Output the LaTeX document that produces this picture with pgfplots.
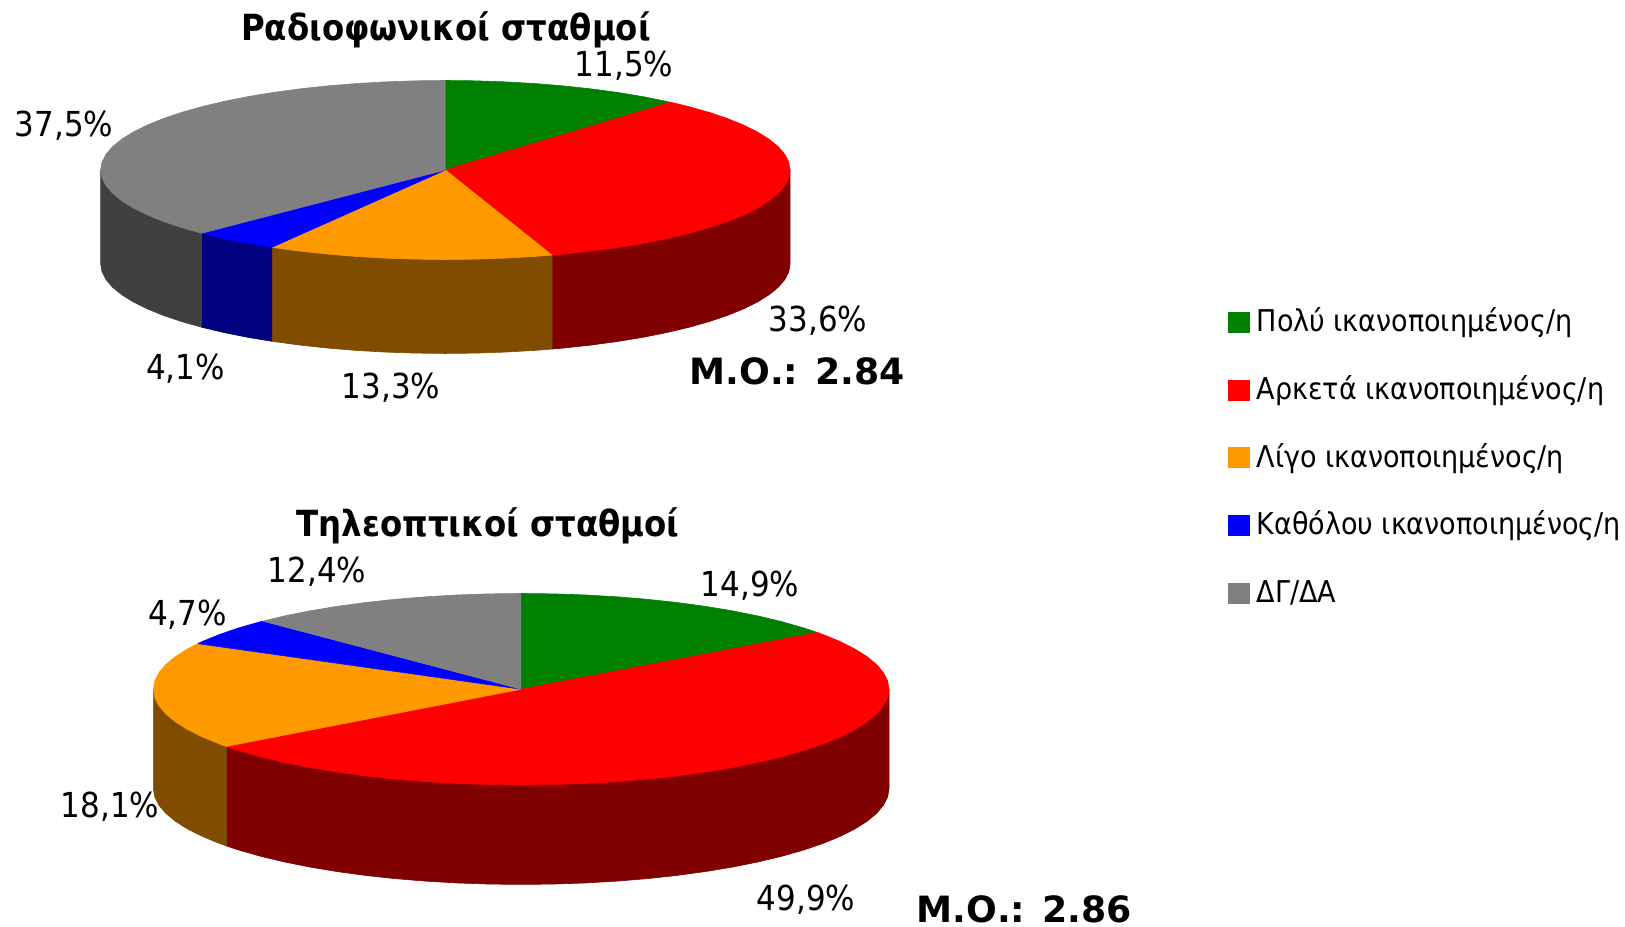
\documentclass[border=0pt]{standalone}
\usepackage{fontspec}
\setmainfont{DejaVu Sans Condensed}
\newfontfamily\wide{DejaVu Sans}
\usepackage{pgfplots}
\pgfplotsset{compat=1.18}
\definecolor{cgreen}{HTML}{008000}
\definecolor{cred}{HTML}{FF0000}
\definecolor{corange}{HTML}{FF9900}
\definecolor{cblue}{HTML}{0000FF}
\definecolor{cgray}{HTML}{808080}
\definecolor{dred}{HTML}{800000}
\definecolor{dorange}{HTML}{804D00}
\definecolor{dblue}{HTML}{000080}
\definecolor{dgray}{HTML}{404040}
\pgfplotsset{
  pie/.style={scale only axis,hide axis,clip=false,anchor=center,
    xmin=-1,xmax=1,ymin=-1,ymax=1},
  slice/.style={fill=#1,draw=#1,line width=0.3pt,line join=round,mark=none},
}
\begin{document}
\begin{tikzpicture}
\path[use as bounding box] (0,0.4pt) rectangle (812.5pt,463.5pt);
% radio: 11.5 33.6 13.3 4.1 37.5, outline points on the unit circle
\begin{axis}[pie,at={(222.7pt,378.5pt)},width=344.7pt,height=89.5pt]
% sides first
\addplot[slice=dred] coordinates {(1,0)(1,-1.05)(.9962,-1.1372)(.9848,-1.2236)(.9659,-1.3088)(.9397,-1.3920)(.9063,-1.4726)(.8660,-1.55)(.8192,-1.6236)(.7660,-1.6928)(.7071,-1.7571)(.6428,-1.8160)(.5736,-1.8692)(.5,-1.9160)(.4226,-1.9563)(.3420,-1.9897)(.3094,-2.0009)(.3094,-.9509)(0,0)};
\addplot[slice=dorange] coordinates {(.3094,-.9509)(.3094,-2.0009)(.2588,-2.0159)(.1736,-2.0348)(.0872,-2.0462)(0,-2.05)(-.0872,-2.0462)(-.1736,-2.0348)(-.2588,-2.0159)(-.3420,-1.9897)(-.4226,-1.9563)(-.5,-1.9160)(-.5036,-1.9139)(-.5036,-.8639)(0,0)};
\addplot[slice=dblue] coordinates {(-.5036,-.8639)(-.5036,-1.9139)(-.5736,-1.8692)(-.6428,-1.8160)(-.7071,-1.7571)(-.7071,-.7071)(0,0)};
\addplot[slice=dgray] coordinates {(-.7071,-.7071)(-.7071,-1.7571)(-.7660,-1.6928)(-.8192,-1.6236)(-.8660,-1.55)(-.9063,-1.4726)(-.9397,-1.3920)(-.9659,-1.3088)(-.9848,-1.2236)(-.9962,-1.1372)(-1,-1.05)(-1,0)(0,0)};
% top face
\addplot[slice=cgreen] coordinates {(0,0)(0,1)(.0872,.9962)(.1736,.9848)(.2588,.9659)(.3420,.9397)(.4226,.9063)(.5,.8660)(.5736,.8192)(.653,.7573)};
\addplot[slice=cred] coordinates {(0,0)(.653,.7573)(.7071,.7071)(.7660,.6428)(.8192,.5736)(.8660,.5)(.9063,.4226)(.9397,.3420)(.9659,.2588)(.9848,.1736)(.9962,.0872)(1,0)(.9962,-.0872)(.9848,-.1736)(.9659,-.2588)(.9397,-.3420)(.9063,-.4226)(.8660,-.5)(.8192,-.5736)(.7660,-.6428)(.7071,-.7071)(.6428,-.7660)(.5736,-.8192)(.5,-.8660)(.4226,-.9063)(.3420,-.9397)(.3094,-.9509)};
\addplot[slice=corange] coordinates {(0,0)(.3094,-.9509)(.2588,-.9659)(.1736,-.9848)(.0872,-.9962)(0,-1)(-.0872,-.9962)(-.1736,-.9848)(-.2588,-.9659)(-.3420,-.9397)(-.4226,-.9063)(-.5,-.8660)(-.5036,-.8639)};
\addplot[slice=cblue] coordinates {(0,0)(-.5036,-.8639)(-.5736,-.8192)(-.6428,-.7660)(-.7071,-.7071)};
\addplot[slice=cgray] coordinates {(0,0)(-.7071,-.7071)(-.7660,-.6428)(-.8192,-.5736)(-.8660,-.5)(-.9063,-.4226)(-.9397,-.3420)(-.9659,-.2588)(-.9848,-.1736)(-.9962,-.0872)(-1,0)(-.9962,.0872)(-.9848,.1736)(-.9659,.2588)(-.9397,.3420)(-.9063,.4226)(-.8660,.5)(-.8192,.5736)(-.7660,.6428)(-.7071,.7071)(-.6428,.7660)(-.5736,.8192)(-.5,.8660)(-.4226,.9063)(-.3420,.9397)(-.2588,.9659)(-.1736,.9848)(-.0872,.9962)(0,1)};
\end{axis}
% tv: 14.9 49.9 18.1 4.7 12.4
\begin{axis}[pie,at={(260.6pt,118.9pt)},width=367.8pt,height=95.7pt]
\addplot[slice=dred] coordinates {(1,0)(1,-1.04)(.9962,-1.1272)(.9848,-1.2136)(.9659,-1.2988)(.9397,-1.3820)(.9063,-1.4626)(.8660,-1.54)(.8192,-1.6136)(.7660,-1.6828)(.7071,-1.7471)(.6428,-1.8060)(.5736,-1.8592)(.5,-1.9060)(.4226,-1.9463)(.3420,-1.9797)(.2588,-2.0059)(.1736,-2.0248)(.0872,-2.0362)(0,-2.04)(-.0872,-2.0362)(-.1736,-2.0248)(-.2588,-2.0059)(-.3420,-1.9797)(-.4226,-1.9463)(-.5,-1.9060)(-.5736,-1.8592)(-.6428,-1.8060)(-.7071,-1.7471)(-.7660,-1.6828)(-.8016,-1.6379)(-.8016,-.5979)(0,0)};
\addplot[slice=dorange] coordinates {(-.8016,-.5979)(-.8016,-1.6379)(-.8192,-1.6136)(-.8660,-1.54)(-.9063,-1.4626)(-.9397,-1.3820)(-.9659,-1.2988)(-.9848,-1.2136)(-.9962,-1.1272)(-1,-1.04)(-1,0)(0,0)};
\addplot[slice=cgreen] coordinates {(0,0)(0,1)(.0872,.9962)(.1736,.9848)(.2588,.9659)(.3420,.9397)(.4226,.9063)(.5,.8660)(.5736,.8192)(.6428,.7660)(.7071,.7071)(.7660,.6428)(.8053,.5929)};
\addplot[slice=cred] coordinates {(0,0)(.8053,.5929)(.8192,.5736)(.8660,.5)(.9063,.4226)(.9397,.3420)(.9659,.2588)(.9848,.1736)(.9962,.0872)(1,0)(.9962,-.0872)(.9848,-.1736)(.9659,-.2588)(.9397,-.3420)(.9063,-.4226)(.8660,-.5)(.8192,-.5736)(.7660,-.6428)(.7071,-.7071)(.6428,-.7660)(.5736,-.8192)(.5,-.8660)(.4226,-.9063)(.3420,-.9397)(.2588,-.9659)(.1736,-.9848)(.0872,-.9962)(0,-1)(-.0872,-.9962)(-.1736,-.9848)(-.2588,-.9659)(-.3420,-.9397)(-.4226,-.9063)(-.5,-.8660)(-.5736,-.8192)(-.6428,-.7660)(-.7071,-.7071)(-.7660,-.6428)(-.8016,-.5979)};
\addplot[slice=corange] coordinates {(0,0)(-.8016,-.5979)(-.8192,-.5736)(-.8660,-.5)(-.9063,-.4226)(-.9397,-.3420)(-.9659,-.2588)(-.9848,-.1736)(-.9962,-.0872)(-1,0)(-.9962,.0872)(-.9848,.1736)(-.9659,.2588)(-.9397,.3420)(-.9063,.4226)(-.8793,.4762)};
\addplot[slice=cblue] coordinates {(0,0)(-.8793,.4762)(-.8660,.5)(-.8192,.5736)(-.7660,.6428)(-.7071,.7071)(-.7027,.7116)};
\addplot[slice=cgray] coordinates {(0,0)(-.7027,.7116)(-.6428,.7660)(-.5736,.8192)(-.5,.8660)(-.4226,.9063)(-.3420,.9397)(-.2588,.9659)(-.1736,.9848)(-.0872,.9962)(0,1)};
\end{axis}
% page overlay in reference pixels: titles, labels, legend
\begin{axis}[scale only axis,hide axis,clip=false,at={(0pt,0pt)},anchor=south west,
  width=812.5pt,height=463.5pt,xmin=0,xmax=1625,ymin=0,ymax=927,y dir=reverse,
  legend style={at={(axis cs:1228,322)},anchor=north west,yshift=8.3pt,draw=none,fill=none,
    inner sep=0pt,row sep=17.35pt,font=\fontsize{15}{18}\selectfont,
    nodes={inner sep=0pt,text height=13pt,text depth=3.5pt}},
  legend cell align=left,
  legend image code/.code={\fill[#1] (0pt,-5pt) rectangle (10.3pt,5pt);}]
\addlegendimage{cgreen}\addlegendentry{\hspace{3.5pt}Πολύ ικανοποιημένος/η}
\addlegendimage{cred}\addlegendentry{\hspace{3.5pt}Αρκετά ικανοποιημένος/η}
\addlegendimage{corange}\addlegendentry{\hspace{3.5pt}Λίγο ικανοποιημένος/η}
\addlegendimage{cblue}\addlegendentry{\hspace{3.5pt}Καθόλου ικανοποιημένος/η}
\addlegendimage{cgray}\addlegendentry{\hspace{3.5pt}ΔΓ/ΔΑ}
\begin{scope}[every node/.style={font=\fontsize{17.2}{20}\selectfont,inner sep=0pt}]
\node at (axis cs:624,66) {11,5\%};
\node at (axis cs:818,321) {33,6\%};
\node at (axis cs:391,388) {13,3\%};
\node at (axis cs:185.5,369) {4,1\%};
\node at (axis cs:64,126) {37,5\%};
\node at (axis cs:750,586) {14,9\%};
\node at (axis cs:806,900) {49,9\%};
\node at (axis cs:110,807) {18,1\%};
\node at (axis cs:187.6,615) {4,7\%};
\node at (axis cs:317,572) {12,4\%};
\end{scope}
\begin{scope}[every node/.style={font=\fontsize{18}{20}\selectfont\bfseries,inner sep=0pt}]
\node at (axis cs:446,30) {Ραδιοφωνικοί σταθμοί};
\node at (axis cs:488,526) {Τηλεοπτικοί σταθμοί};
\end{scope}
\begin{scope}[every node/.style={font=\fontsize{18.1}{20}\selectfont\wide\bfseries,inner sep=0pt}]
\node at (axis cs:797,371) {Μ.Ο.: 2.84};
\node at (axis cs:1024,909) {Μ.Ο.: 2.86};
\end{scope}
\end{axis}
\end{tikzpicture}
\end{document}
